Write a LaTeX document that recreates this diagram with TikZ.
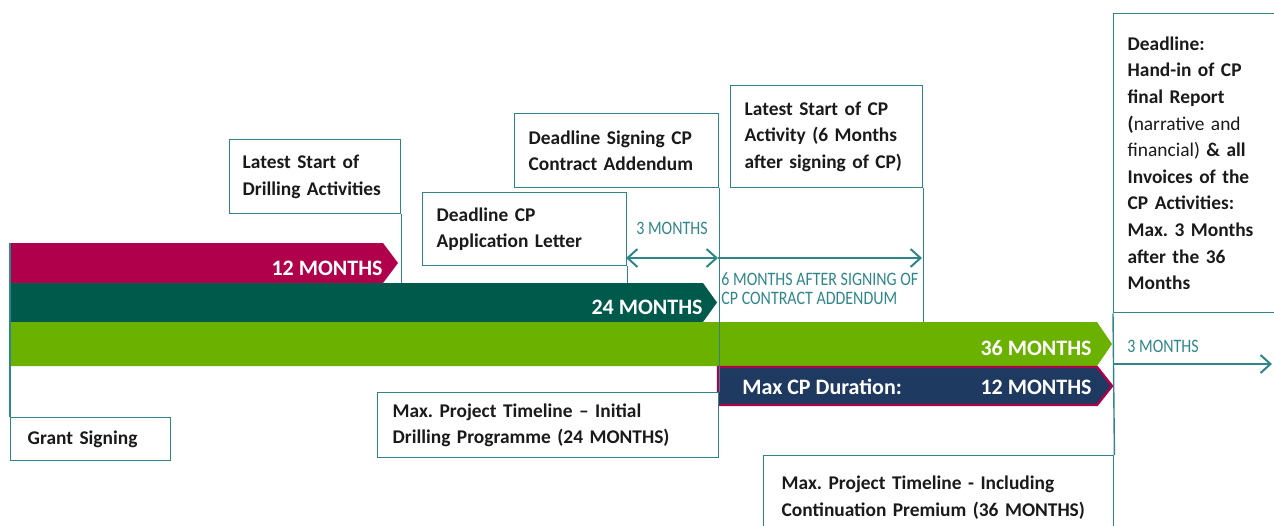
\documentclass[tikz,border=0pt]{standalone}
\usepackage{fontspec}
\setmainfont{Carlito}
\newfontfamily\condfont[FakeStretch=0.84]{Carlito}
\definecolor{tealline}{HTML}{2F868A}
\definecolor{barred}{HTML}{B0004B}
\definecolor{bardkgreen}{HTML}{005A4C}
\definecolor{barltgreen}{HTML}{6BB200}
\definecolor{barnavy}{HTML}{1F3A60}
\definecolor{boxtext}{HTML}{1A1A1A}
\usetikzlibrary{arrows.meta,positioning,calc}
\frenchspacing
\newcommand\nohyph{\hyphenpenalty=10000\relax}

\tikzset{
  note/.style={draw=tealline, line width=0.7pt, fill=white, anchor=north west,
    inner ysep=0pt, align=left, text=boxtext,
    font=\fontsize{9.7}{13.3}\selectfont\bfseries\nohyph},
  barlabel/.style={inner sep=0pt, text=white, font=\fontsize{11}{13}\selectfont\bfseries},
  spanlabel/.style={inner sep=0pt, text=tealline, font=\condfont\fontsize{9.5}{9.5}\selectfont},
  tick/.style={draw=tealline, line width=0.7pt},
  span/.style={draw=tealline, line width=1pt},
  barb/.tip={Straight Barb[length=5pt, width=9pt, line width=1pt]}
}

\begin{document}
\begin{tikzpicture}[x=0.5pt, y=-0.5pt]
  \path[use as bounding box, clip] (0,0) rectangle (1274,525);

  % Bars
  \fill[barred] (10,243) -- (383,243) -- (398,263) -- (383,283) -- (10,283) -- cycle;
  \fill[bardkgreen] (10,283) -- (703,283) -- (717,302.5) -- (703,322) -- (10,322) -- cycle;
  \fill[barltgreen] (10,322) -- (1097,322) -- (1112,344) -- (1097,366) -- (10,366) -- cycle;
  \filldraw[fill=barnavy, draw=barred, line width=1.2pt]
    (718,367) -- (1097,367) -- (1112,386) -- (1097,405) -- (718,405) -- cycle;

  % Bar labels
  \node[barlabel, anchor=east] (lbl12) at (383,268) {12 MONTHS};
  \node[barlabel, anchor=east] (lbl24) at (703,307) {24 MONTHS};
  \node[barlabel, anchor=east] (lbl36) at (1092,348) {36 MONTHS};
  \node[barlabel, anchor=west] (lblcp) at (742,387) {Max CP Duration:};
  \node[barlabel, anchor=east] (lblcp12) at (1092,387) {12 MONTHS};

  % Milestone boxes
  \node[note, text width=63pt, inner xsep=8.5pt, minimum height=21.5pt] (grant) at (10,417) {Grant Signing};
  \node[note, text width=72.5pt, inner xsep=6.5pt, minimum height=37pt] (drill) at (229,139)
    {Latest Start of\\Drilling Activities};
  \node[note, text width=88pt, inner xsep=7pt, minimum height=36.5pt] (applic) at (422,192)
    {Deadline CP\\Application Letter};
  \node[note, text width=88pt, inner xsep=7pt, minimum height=37pt] (addend) at (514,113)
    {Deadline Signing CP\\Contract Addendum};
  \node[note, text width=82pt, inner xsep=7pt, minimum height=51pt] (cpstart) at (730,85)
    {Latest Start of CP\\Activity (6 Months\\after signing of CP)};
  \node[note, text width=155.5pt, inner xsep=7.5pt, minimum height=32.5pt] (initial) at (377,392)
    {Max. Project Timeline -- Initial\\Drilling Programme (24 MONTHS)};
  \node[note, text width=157pt, inner xsep=9pt, minimum height=42pt] (incl) at (763,455)
    {Max. Project Timeline - Including\\Continuation Premium (36 MONTHS)};
  \node[note, text width=79.5pt, inner xsep=7pt, minimum height=149.5pt] (deadline) at (1113,13)
    {Deadline:\\Hand-in of CP\\final Report\\(\mdseries narrative and\\financial) \bfseries\& all\\
     Invoices of the\\CP Activities:\\Max. 3 Months\\after the 36\\Months};

  % Bar edges
  \coordinate (top12) at (0,243);
  \coordinate (top24) at (0,283);
  \coordinate (top36) at (0,322);

  % Ticks from boxes to bars
  \draw[tick] (grant.north west) -- (grant.north west |- top12);
  \draw[tick] (drill.south east) -- (drill.south east |- top24);
  \draw[tick] (applic.south east) -- (applic.south east |- top24);
  \draw[tick] (addend.south east) -- (initial.north east);
  \draw[tick] (cpstart.south east) -- (cpstart.south east |- top36);
  \draw[tick] (deadline.south west) -- (incl.north east);

  % Spans
  \coordinate (s3a) at (626,258);
  \coordinate (s3b) at (718,258);
  \coordinate (s6b) at (922,258);
  \coordinate (s36) at (1113,364);
  \coordinate (s39) at (1272,364);
  \draw[span, {barb}-{barb}] (s3a) -- (s3b);
  \draw[span, -{barb}] (s3b) -- (s6b);
  \draw[span, -{barb}] (s36) -- (s39);

  \node[spanlabel] (lbl3a) at (672,228) {3 MONTHS};
  \node[spanlabel, anchor=north west, align=left] (lbl6) at (721,272)
    {6 MONTHS AFTER SIGNING OF\\CP CONTRACT ADDENDUM};
  \node[spanlabel, anchor=west] (lbl3b) at (1127,346) {3 MONTHS};
\end{tikzpicture}
\end{document}
